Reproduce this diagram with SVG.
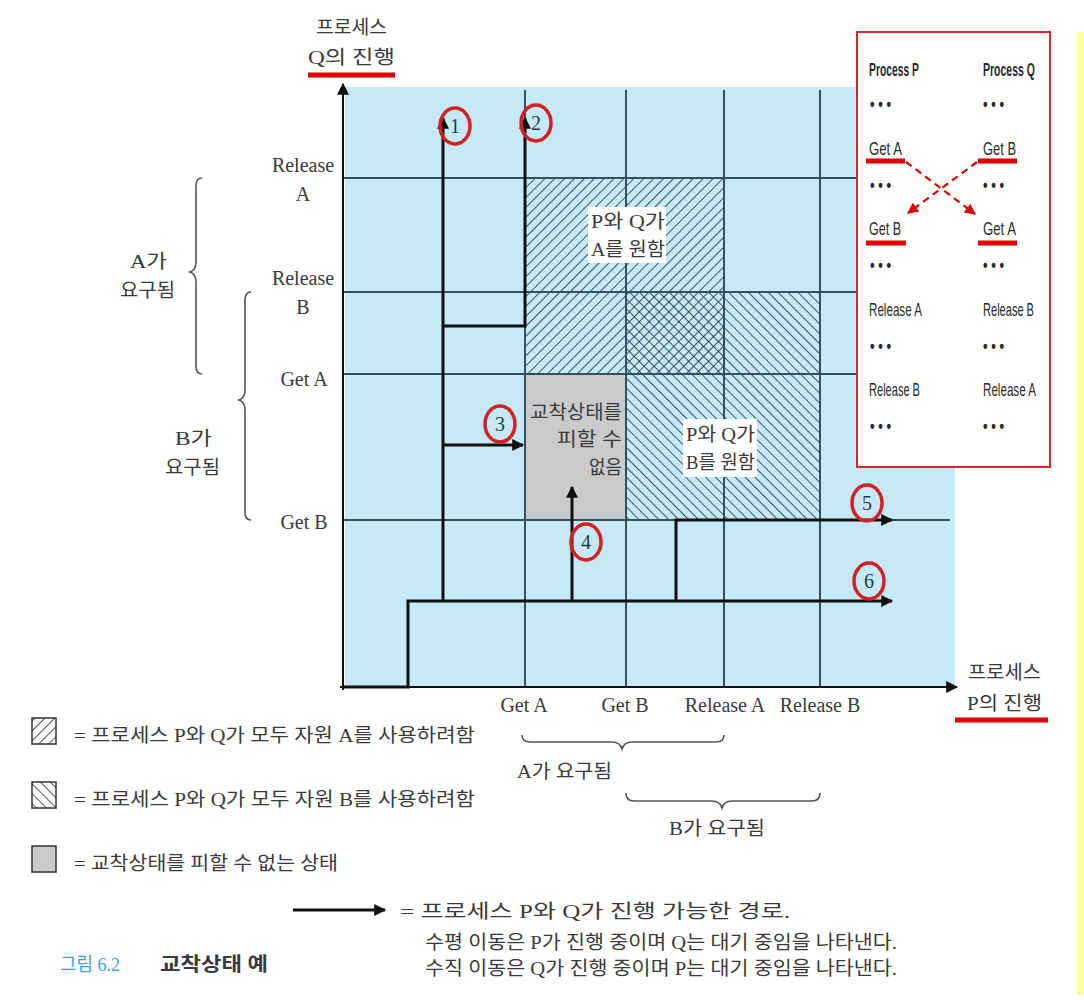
<svg xmlns="http://www.w3.org/2000/svg" width="1084" height="1000" viewBox="0 0 1084 1000">
<defs>
<style>
.t{font-family:"Liberation Serif","Noto Sans CJK KR",serif;fill:#3a3a3a;font-size:20px}
.k{font-family:"Liberation Serif","Noto Sans CJK KR",serif;fill:#3a3a3a;font-size:19px}
.c{font-family:"Liberation Sans","Noto Sans CJK KR",sans-serif;fill:#2a2a2a;font-size:19px}
.grid{stroke:#34505e;stroke-width:2;fill:none}
.path{stroke:#111;stroke-width:3;fill:none}
.ring{fill:none;stroke:#d42222;stroke-width:3.5}
.num{font-family:"Liberation Serif",serif;font-size:20px;fill:#1d3b4d;text-anchor:middle}
.ul{stroke:#e00000;stroke-width:5}
.brace{fill:none;stroke:#555;stroke-width:1.6}
</style>
<pattern id="hA" width="7" height="7" patternUnits="userSpaceOnUse" patternTransform="rotate(45)"><line x1="0" y1="0" x2="0" y2="7" stroke="#1b2b33" stroke-width="1.6"/></pattern>
<pattern id="hB" width="7" height="7" patternUnits="userSpaceOnUse" patternTransform="rotate(-45)"><line x1="0" y1="0" x2="0" y2="7" stroke="#1b2b33" stroke-width="1.6"/></pattern>
<marker id="ah" viewBox="0 0 10 10" refX="9" refY="5" markerWidth="5" markerHeight="4" orient="auto" markerUnits="strokeWidth"><path d="M0,0 L10,5 L0,10 z" fill="#111"/></marker>
<marker id="ax" viewBox="0 0 10 10" refX="9" refY="5" markerWidth="7" markerHeight="6" orient="auto" markerUnits="strokeWidth"><path d="M0,0 L10,5 L0,10 z" fill="#111"/></marker>
<marker id="rh" viewBox="0 0 10 10" refX="9" refY="5" markerWidth="6" markerHeight="5" orient="auto" markerUnits="strokeWidth"><path d="M0,0 L10,5 L0,10 z" fill="#e00000"/></marker>
</defs>
<rect width="1084" height="1000" fill="#fff"/>
<rect x="1077" y="32" width="7" height="963" fill="#ffff9c"/>

<g id="chart">
<rect x="345" y="87" width="610" height="600" fill="#c6e9f8"/>
<rect x="525" y="178" width="199" height="196" fill="url(#hA)"/>
<rect x="626" y="292" width="194" height="228" fill="url(#hB)"/>
<rect x="525" y="374" width="101" height="146" fill="#cacaca"/>
<g class="grid">
<line x1="525" y1="90" x2="525" y2="687"/>
<line x1="626" y1="90" x2="626" y2="687"/>
<line x1="724" y1="90" x2="724" y2="687"/>
<line x1="820" y1="90" x2="820" y2="687"/>
<line x1="343" y1="178" x2="950" y2="178"/>
<line x1="343" y1="292" x2="950" y2="292"/>
<line x1="343" y1="374" x2="950" y2="374"/>
<line x1="343" y1="520" x2="950" y2="520"/>
</g>
<line x1="343" y1="690" x2="343" y2="84" stroke="#111" stroke-width="2" marker-end="url(#ax)"/>
<line x1="340" y1="687" x2="957" y2="687" stroke="#111" stroke-width="2" marker-end="url(#ax)"/>
</g>

<g id="regionA">
<rect x="588" y="207" width="78" height="56" fill="#fff"/>
<text class="k" x="591" y="228" textLength="74" lengthAdjust="spacingAndGlyphs">P와 Q가</text>
<text class="k" x="591" y="256" textLength="74" lengthAdjust="spacingAndGlyphs">A를 원함</text>
</g>
<g id="regionB">
<rect x="683" y="419" width="74" height="58" fill="#fff"/>
<text class="k" x="686" y="441" textLength="69" lengthAdjust="spacingAndGlyphs">P와 Q가</text>
<text class="k" x="686" y="469" textLength="69" lengthAdjust="spacingAndGlyphs">B를 원함</text>
</g>
<g id="fatal">
<text class="k" x="530" y="419" textLength="92" lengthAdjust="spacingAndGlyphs">교착상태를</text>
<text class="k" x="557" y="446" textLength="65" lengthAdjust="spacingAndGlyphs">피할 수</text>
<text class="k" x="589" y="474" textLength="33" lengthAdjust="spacingAndGlyphs">없음</text>
</g>

<g id="connectors">
<polyline class="path" points="343,687 408,687 408,601 892,601" marker-end="url(#ah)"/>
<polyline class="path" points="443,601 443,118" marker-end="url(#ah)"/>
<polyline class="path" points="443,326 525,326 525,118" marker-end="url(#ah)"/>
<polyline class="path" points="443,445 523,445" marker-end="url(#ah)"/>
<polyline class="path" points="572,601 572,487" marker-end="url(#ah)"/>
<polyline class="path" points="676,601 676,520 892,520" marker-end="url(#ah)"/>
</g>

<g id="markers">
<ellipse class="ring" cx="455" cy="126" rx="15" ry="18"/><text class="num" x="455" y="133">1</text>
<ellipse class="ring" cx="536" cy="123" rx="15" ry="18"/><text class="num" x="536" y="130">2</text>
<ellipse class="ring" cx="500" cy="424" rx="15" ry="18"/><text class="num" x="500" y="431">3</text>
<ellipse class="ring" cx="586" cy="542" rx="15" ry="18"/><text class="num" x="586" y="549">4</text>
<ellipse class="ring" cx="867" cy="503" rx="15" ry="18"/><text class="num" x="867" y="510">5</text>
<ellipse class="ring" cx="869" cy="581" rx="15" ry="18"/><text class="num" x="869" y="588">6</text>
</g>

<g id="yaxis-labels">
<text class="k" x="316" y="34" textLength="71" lengthAdjust="spacingAndGlyphs">프로세스</text>
<text class="k" x="308" y="64" textLength="87" lengthAdjust="spacingAndGlyphs">Q의 진행</text>
<line class="ul" x1="308" y1="75" x2="395" y2="75" stroke-width="6"/>
<text class="t" x="303" y="172" text-anchor="middle">Release</text>
<text class="t" x="303" y="201" text-anchor="middle">A</text>
<text class="t" x="303" y="285" text-anchor="middle">Release</text>
<text class="t" x="303" y="314" text-anchor="middle">B</text>
<text class="t" x="304" y="386" text-anchor="middle">Get A</text>
<text class="t" x="304" y="529" text-anchor="middle">Get B</text>
</g>

<g id="xaxis-labels">
<text class="t" x="524" y="712" text-anchor="middle">Get A</text>
<text class="t" x="625" y="712" text-anchor="middle">Get B</text>
<text class="t" x="725" y="712" text-anchor="middle">Release A</text>
<text class="t" x="820" y="712" text-anchor="middle">Release B</text>
<text class="k" x="968" y="679" textLength="73" lengthAdjust="spacingAndGlyphs">프로세스</text>
<text class="k" x="967" y="710" textLength="75" lengthAdjust="spacingAndGlyphs">P의 진행</text>
<line class="ul" x1="955" y1="720" x2="1048" y2="720" stroke-width="6"/>
</g>

<g id="braces">
<path class="brace" d="M202,178 Q196,178 196,186 L196,262 Q196,270 190,272 Q196,274 196,282 L196,366 Q196,374 202,374"/>
<text class="k" x="130" y="268" textLength="37" lengthAdjust="spacingAndGlyphs">A가</text>
<text class="k" x="120" y="297" textLength="55" lengthAdjust="spacingAndGlyphs">요구됨</text>
<path class="brace" d="M251,292 Q245,292 245,300 L245,390 Q245,398 239,400 Q245,402 245,410 L245,512 Q245,520 251,520"/>
<text class="k" x="175" y="445" textLength="37" lengthAdjust="spacingAndGlyphs">B가</text>
<text class="k" x="165" y="474" textLength="55" lengthAdjust="spacingAndGlyphs">요구됨</text>
<path class="brace" d="M522,735 Q522,742 530,742 L612,742 Q620,742 622,749 Q624,742 632,742 L716,742 Q724,742 724,735"/>
<text class="k" x="517" y="778" textLength="95" lengthAdjust="spacingAndGlyphs">A가 요구됨</text>
<path class="brace" d="M626,793 Q626,801 634,801 L712,801 Q720,801 722,808 Q724,801 732,801 L812,801 Q820,801 820,793"/>
<text class="k" x="669" y="835" textLength="96" lengthAdjust="spacingAndGlyphs">B가 요구됨</text>
</g>

<g id="code-box">
<rect x="857" y="32" width="193" height="435" fill="#fff" stroke="#d42a2a" stroke-width="2"/>
<text class="c" x="869" y="76" font-weight="bold" textLength="50" lengthAdjust="spacingAndGlyphs">Process P</text>
<text class="c" x="983" y="76" font-weight="bold" textLength="52" lengthAdjust="spacingAndGlyphs">Process Q</text>
<text class="c" x="870" y="110" font-weight="bold" textLength="21" lengthAdjust="spacingAndGlyphs">• • •</text>
<text class="c" x="983" y="110" font-weight="bold" textLength="21" lengthAdjust="spacingAndGlyphs">• • •</text>
<text class="c" x="869" y="155" textLength="33" lengthAdjust="spacingAndGlyphs">Get A</text>
<text class="c" x="983" y="155" textLength="33" lengthAdjust="spacingAndGlyphs">Get B</text>
<text class="c" x="870" y="191" font-weight="bold" textLength="21" lengthAdjust="spacingAndGlyphs">• • •</text>
<text class="c" x="983" y="191" font-weight="bold" textLength="21" lengthAdjust="spacingAndGlyphs">• • •</text>
<text class="c" x="869" y="235" textLength="32" lengthAdjust="spacingAndGlyphs">Get B</text>
<text class="c" x="983" y="235" textLength="33" lengthAdjust="spacingAndGlyphs">Get A</text>
<text class="c" x="870" y="271" font-weight="bold" textLength="21" lengthAdjust="spacingAndGlyphs">• • •</text>
<text class="c" x="983" y="271" font-weight="bold" textLength="21" lengthAdjust="spacingAndGlyphs">• • •</text>
<text class="c" x="869" y="316" textLength="53" lengthAdjust="spacingAndGlyphs">Release A</text>
<text class="c" x="983" y="316" textLength="51" lengthAdjust="spacingAndGlyphs">Release B</text>
<text class="c" x="870" y="352" font-weight="bold" textLength="21" lengthAdjust="spacingAndGlyphs">• • •</text>
<text class="c" x="983" y="352" font-weight="bold" textLength="21" lengthAdjust="spacingAndGlyphs">• • •</text>
<text class="c" x="869" y="396" textLength="51" lengthAdjust="spacingAndGlyphs">Release B</text>
<text class="c" x="983" y="396" textLength="53" lengthAdjust="spacingAndGlyphs">Release A</text>
<text class="c" x="870" y="432" font-weight="bold" textLength="21" lengthAdjust="spacingAndGlyphs">• • •</text>
<text class="c" x="983" y="432" font-weight="bold" textLength="21" lengthAdjust="spacingAndGlyphs">• • •</text>
<line class="ul" x1="866" y1="161" x2="905" y2="161"/>
<line class="ul" x1="978" y1="161" x2="1017" y2="161"/>
<line class="ul" x1="866" y1="243" x2="906" y2="243"/>
<line class="ul" x1="978" y1="243" x2="1017" y2="243"/>
<line x1="906" y1="162" x2="975" y2="214" stroke="#e00000" stroke-width="2.2" stroke-dasharray="7,5" marker-end="url(#rh)"/>
<line x1="977" y1="162" x2="908" y2="213" stroke="#e00000" stroke-width="2.2" stroke-dasharray="7,5" marker-end="url(#rh)"/>
</g>

<g id="legend">
<rect x="32" y="718" width="24" height="26" fill="url(#hA)" stroke="#333" stroke-width="1.5"/>
<text class="k" x="74" y="742" textLength="401" lengthAdjust="spacingAndGlyphs">= 프로세스 P와 Q가 모두 자원 A를 사용하려함</text>
<rect x="32" y="782" width="24" height="26" fill="url(#hB)" stroke="#333" stroke-width="1.5"/>
<text class="k" x="74" y="806" textLength="401" lengthAdjust="spacingAndGlyphs">= 프로세스 P와 Q가 모두 자원 B를 사용하려함</text>
<rect x="32" y="846" width="24" height="26" fill="#cacaca" stroke="#333" stroke-width="1.5"/>
<text class="k" x="74" y="870" textLength="264" lengthAdjust="spacingAndGlyphs">= 교착상태를 피할 수 없는 상태</text>
<line x1="293" y1="910" x2="385" y2="910" stroke="#111" stroke-width="3" marker-end="url(#ah)"/>
<text class="k" x="400" y="918" textLength="390" lengthAdjust="spacingAndGlyphs">= 프로세스 P와 Q가 진행 가능한 경로.</text>
<text class="k" x="425" y="949" textLength="472" lengthAdjust="spacingAndGlyphs">수평 이동은 P가 진행 중이며 Q는 대기 중임을 나타낸다.</text>
<text class="k" x="425" y="975" textLength="472" lengthAdjust="spacingAndGlyphs">수직 이동은 Q가 진행 중이며 P는 대기 중임을 나타낸다.</text>
<text class="k" x="60" y="971" style="fill:#3aa3db" textLength="60" lengthAdjust="spacingAndGlyphs">그림 6.2</text>
<text class="k" x="160" y="971" font-weight="bold" textLength="108" lengthAdjust="spacingAndGlyphs">교착상태 예</text>
</g>
</svg>
